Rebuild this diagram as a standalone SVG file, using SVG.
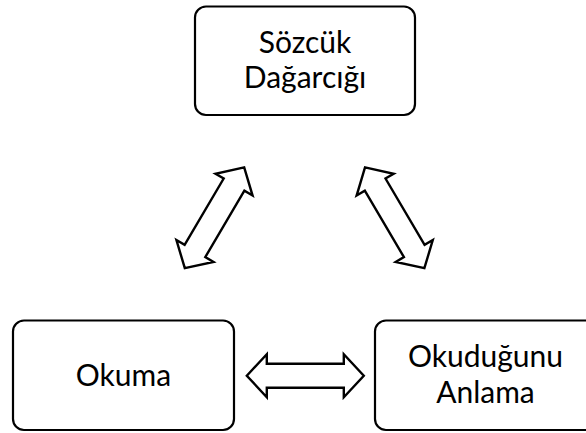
<svg xmlns="http://www.w3.org/2000/svg" width="586" height="433" viewBox="0 0 586 433">
<defs>
<style>
.box{fill:#fff;stroke:#000;stroke-width:2.2}
.arr{fill:#fff;stroke:#000;stroke-width:2.4;stroke-linejoin:miter}
.t{font-family:Lato,"Open Sans","Liberation Sans",sans-serif;font-size:30px;fill:#000;text-anchor:middle}
</style>
<path id="dbl" d="M -58.5 0 L -38.5 -21.5 L -38.5 -12 L 38.5 -12 L 38.5 -21.5 L 58.5 0 L 38.5 21.5 L 38.5 12 L -38.5 12 L -38.5 21.5 Z"/>
</defs>
<rect width="586" height="433" fill="#fff"/>
<g id="connectors">
<use href="#dbl" class="arr" transform="translate(214.5,217.8) rotate(-59.5)"/>
<use href="#dbl" class="arr" transform="translate(394.7,217.8) rotate(59.5)"/>
<use href="#dbl" class="arr" transform="translate(305.3,375.7)"/>
</g>
<g id="sozcuk">
<rect class="box" x="195" y="6.5" width="220" height="108.5" rx="11"/>
<text class="t" x="305" y="53">Sözcük</text>
<text class="t" x="305" y="88">Dağarcığı</text>
</g>
<g id="okuma">
<rect class="box" x="13" y="320.5" width="221" height="109.5" rx="11"/>
<text class="t" x="123.5" y="386">Okuma</text>
</g>
<g id="anlama">
<rect class="box" x="375" y="320.5" width="222" height="109.5" rx="11"/>
<text class="t" x="485.5" y="367">Okuduğunu</text>
<text class="t" x="485.5" y="403">Anlama</text>
</g>
</svg>
